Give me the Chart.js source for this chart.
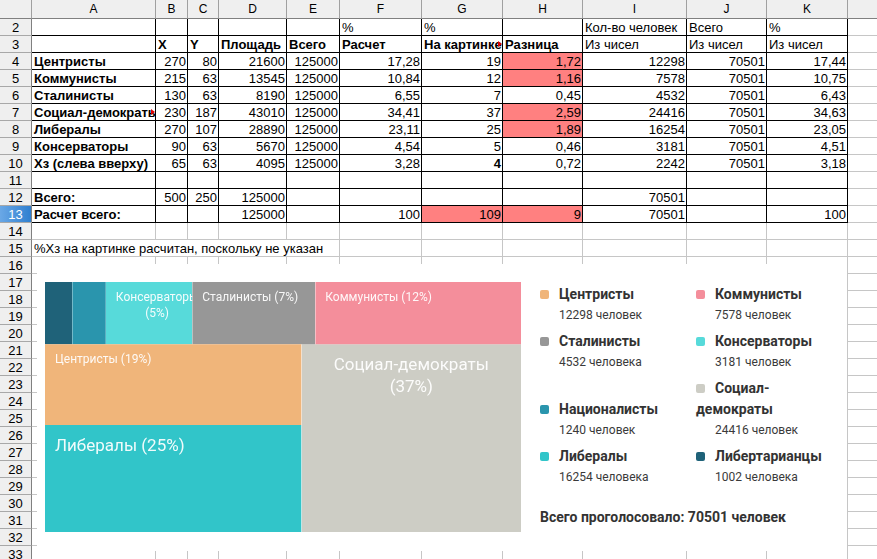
<!DOCTYPE html>
<html lang="ru">
<head>
<meta charset="utf-8">
<title>Результаты голосования</title>
<script src="https://cdn.jsdelivr.net/npm/chart.js@4.4.1/dist/chart.umd.min.js"></script>
<style>
  html, body { margin: 0; padding: 0; background: #fff; }
  #sheet { position: relative; width: 877px; height: 559px; overflow: hidden;
           font-family: "Liberation Sans", Arial, sans-serif; font-size: 13px; color: #000; }
  .ln { position: absolute; }
  .cell { position: absolute; height: 16px; line-height: 17px; overflow: hidden; white-space: nowrap;
          box-sizing: border-box; padding: 0 1px 0 2px; z-index: 2; }
  .num { text-align: right; }
  .b { font-weight: bold; }
  .hdr { position: absolute; background: #efefef; text-align: center; box-sizing: border-box;
         font-size: 12px; z-index: 5; }
  .tri { position: absolute; right: 0; top: 5px; width: 0; height: 0;
         border-left: 4px solid #e00000; border-top: 3px solid transparent; border-bottom: 3px solid transparent; }
  #picture { position: absolute; left: 37px; top: 264px; width: 810px; height: 287px; background: #fff; z-index: 4;
             font-family: Roboto, "Noto Sans", sans-serif; color: #333; }
  #treemap { position: absolute; left: 8px; top: 18px; width: 476px; height: 250px; }
  #legend { position: absolute; left: 503px; top: 19.5px; display: grid;
            grid-template-columns: 156px 135px; row-gap: 5px; align-items: end; }
  .li-name { font-size: 14px; font-weight: bold; line-height: 21px; color: #333; }
  .li-count { font-size: 12px; line-height: 21px; padding-left: 19px; color: #3a3a3a; }
  .sw { display: inline-block; width: 9px; height: 9px; border-radius: 2px; margin-right: 10px; vertical-align: middle; }
  #total { position: absolute; left: 503px; top: 242.5px; font-size: 14px; font-weight: bold; line-height: 21px; color: #333; }
</style>
</head>
<body>
<div id="sheet">
  <div id="picture">
    <div id="treemap"><canvas id="treemapChart"></canvas></div>
    <div id="legend"></div>
    <div id="total"></div>
  </div>
</div>
<script>
// Spreadsheet data (rows 4-10)
var sheetParties = ['Центристы', 'Коммунисты', 'Сталинисты', 'Социал-демократы', 'Либералы', 'Консерваторы', 'Хз (слева вверху)'];
var pxWidth = [270, 215, 130, 230, 270, 90, 65];
var pxHeight = [80, 63, 63, 187, 107, 63, 63];
var pxArea = [21600, 13545, 8190, 43010, 28890, 5670, 4095];
var pxTotal = 125000;
var calcPct = [17.28, 10.84, 6.55, 34.41, 23.11, 4.54, 3.28];
var picPct = [19, 12, 7, 37, 25, 5, 4];
var diffPct = [1.72, 1.16, 0.45, 2.59, 1.89, 0.46, 0.72];
var sheetVoters = [12298, 7578, 4532, 24416, 16254, 3181, 2242];
var sheetVotersTotal = 70501;
var sheetVotersPct = [17.44, 10.75, 6.43, 34.63, 23.05, 4.51, 3.18];
var pictureSize = [500, 250];

// Chart data
var parties = ['Центристы', 'Коммунисты', 'Сталинисты', 'Консерваторы', 'Националисты', 'Социал-демократы', 'Либералы', 'Либертарианцы'];
var voters = [12298, 7578, 4532, 3181, 1240, 24416, 16254, 1002];
var shownPct = [19, 12, 7, 5, null, 37, 25, null];
var partyColors = ['#f0b57a', '#f48e9b', '#979797', '#57dada', '#2a95ad', '#cdcdc5', '#31c5c9', '#1f6279'];

// how the treemap is split: 'h' = side by side, 'v' = stacked
var treeLayout = { dir: 'v', items: [
  { dir: 'h', items: ['Либертарианцы', 'Националисты', 'Консерваторы', 'Сталинисты', 'Коммунисты'] },
  { dir: 'h', items: [{ dir: 'v', items: ['Центристы', 'Либералы'] }, 'Социал-демократы'] }
]};

// ---------- spreadsheet ----------
var sheet = document.getElementById('sheet');
var colEdges = [32, 156, 188, 219, 287, 340, 422, 503, 583, 687, 767, 848, 960];
var colNames = ['A', 'B', 'C', 'D', 'E', 'F', 'G', 'H', 'I', 'J', 'K', 'L'];
var HEAD_H = 19, ROW_H = 17;
function rowTop(r) { return HEAD_H + (r - 2) * ROW_H; }
function fmt(v, dec) { return v.toFixed(dec).replace('.', ','); }

function line(x, y, w, h, color, z) {
  var d = document.createElement('div');
  d.className = 'ln';
  d.style.cssText = 'left:' + x + 'px;top:' + y + 'px;width:' + w + 'px;height:' + h + 'px;background:' + color + ';z-index:' + z;
  sheet.appendChild(d);
}

function putCell(col, row, text, opts) {
  opts = opts || {};
  var c = colNames.indexOf(col);
  var d = document.createElement('div');
  d.className = 'cell' + (typeof text === 'number' ? ' num' : '') + (opts.bold ? ' b' : '');
  d.style.left = colEdges[c] + 'px';
  d.style.top = rowTop(row) + 'px';
  d.style.width = (opts.width || (colEdges[c + 1] - colEdges[c] - 1)) + 'px';
  if (opts.fill) d.style.background = opts.fill;
  d.textContent = typeof text === 'number' && opts.dec !== undefined ? fmt(text, opts.dec) : String(text);
  if (opts.more) {
    d.style.paddingRight = '5px';
    var t = document.createElement('span');
    t.className = 'tri';
    d.appendChild(t);
  }
  sheet.appendChild(d);
}

// light grid
for (var r = 3; r <= 34; r++) line(0, rowTop(r) - 1, 877, 1, '#c6c6c6', 1);
for (var c = 1; c < colEdges.length - 1; c++) line(colEdges[c] - 1, HEAD_H, 1, 559, '#c6c6c6', 1);

// headers
var corner = document.createElement('div');
corner.className = 'hdr';
corner.style.cssText = 'left:0;top:0;width:32px;height:19px;border-right:1px solid #a0a0a0;border-bottom:1px solid #808080';
sheet.appendChild(corner);
colNames.forEach(function (name, i) {
  var h = document.createElement('div');
  h.className = 'hdr';
  h.style.cssText = 'left:' + colEdges[i] + 'px;top:0;width:' + (colEdges[i + 1] - colEdges[i]) + 'px;height:19px;line-height:19px;' +
    'border-right:1px solid #a0a0a0;border-bottom:1px solid #808080';
  h.textContent = name === 'L' ? '' : name;
  sheet.appendChild(h);
});
for (var rr = 2; rr <= 34; rr++) {
  var h = document.createElement('div');
  h.className = 'hdr';
  h.style.cssText = 'left:0;top:' + rowTop(rr) + 'px;width:32px;height:17px;line-height:17px;font-size:13px;' +
    'border-right:1px solid #808080;border-bottom:1px solid #a8a8a8;' +
    (rr === 13 ? 'background:linear-gradient(90deg,#6aa8e6,#2f7fd0);color:#fff;' : '');
  h.textContent = rr;
  sheet.appendChild(h);
}

// row 2 and 3 captions
putCell('F', 2, '%'); putCell('G', 2, '%'); putCell('I', 2, 'Кол-во человек'); putCell('J', 2, 'Всего'); putCell('K', 2, '%');
putCell('B', 3, 'X', { bold: true }); putCell('C', 3, 'Y', { bold: true }); putCell('D', 3, 'Площадь', { bold: true });
putCell('E', 3, 'Всего', { bold: true }); putCell('F', 3, 'Расчет', { bold: true });
putCell('G', 3, 'На картинке', { bold: true, more: true }); putCell('H', 3, 'Разница', { bold: true });
putCell('I', 3, 'Из чисел'); putCell('J', 3, 'Из чисел'); putCell('K', 3, 'Из чисел');

var RED = '#ff8080';
sheetParties.forEach(function (name, i) {
  var row = 4 + i;
  putCell('A', row, name, { bold: true, more: name === 'Социал-демократы' });
  putCell('B', row, pxWidth[i]);
  putCell('C', row, pxHeight[i]);
  putCell('D', row, pxArea[i]);
  putCell('E', row, pxTotal);
  putCell('F', row, calcPct[i], { dec: 2 });
  putCell('G', row, picPct[i], { bold: i === sheetParties.length - 1 });
  putCell('H', row, diffPct[i], { dec: 2, fill: diffPct[i] > 1 ? RED : null });
  putCell('I', row, sheetVoters[i]);
  putCell('J', row, sheetVotersTotal);
  putCell('K', row, sheetVotersPct[i], { dec: 2 });
});

function sum(arr) { return arr.reduce(function (s, v) { return s + v; }, 0); }
putCell('A', 12, 'Всего:', { bold: true });
putCell('B', 12, pictureSize[0]); putCell('C', 12, pictureSize[1]);
putCell('D', 12, pictureSize[0] * pictureSize[1]);
putCell('I', 12, sheetVotersTotal);
var picSum = sum(picPct), calcSum = Math.round(sum(calcPct));
putCell('A', 13, 'Расчет всего:', { bold: true });
putCell('D', 13, sum(pxArea));
putCell('F', 13, calcSum);
putCell('G', 13, picSum, { fill: picSum !== 100 ? RED : null });
putCell('H', 13, picSum - calcSum, { fill: picSum !== calcSum ? RED : null });
putCell('I', 13, sum(sheetVoters));
putCell('K', 13, Math.round(sum(sheetVotersPct)));
putCell('A', 15, '%Хз на картинке расчитан, поскольку не указан', { width: colEdges[5] - colEdges[0] - 1, fill: '#fff' });

// black borders around A2:K13
for (var br = 2; br <= 14; br++) line(31, rowTop(br) - 1, colEdges[11] - 31, 1, '#000', 3);
for (var bc = 0; bc <= 11; bc++) line(colEdges[bc] - 1, rowTop(2) - 1, 1, rowTop(14) - rowTop(2) + 1, '#000', 3);

// ---------- treemap ----------
var totalVoters = sum(voters);
function nodeSum(n) {
  if (typeof n === 'string') return voters[parties.indexOf(n)];
  return sum(n.items.map(nodeSum));
}
function place(n, x0, y0, x1, y1, out) {
  if (typeof n === 'string') { out[n] = { x0: x0, y0: y0, x1: x1, y1: y1 }; return; }
  var total = nodeSum(n), pos = n.dir === 'h' ? x0 : y0;
  n.items.forEach(function (child) {
    var f = nodeSum(child) / total;
    if (n.dir === 'h') { var nx = pos + (x1 - x0) * f; place(child, pos, y0, nx, y1, out); pos = nx; }
    else { var ny = pos + (y1 - y0) * f; place(child, x0, pos, x1, ny, out); pos = ny; }
  });
}
var cells = {};
place(treeLayout, 0, 0, 1, 1, cells);

var datasets = parties.map(function (name, i) {
  var r = cells[name];
  return {
    label: name,
    data: [{ x: r.x0, y: r.y0 }, { x: r.x1, y: r.y0 }],
    fill: { value: r.y1 },
    backgroundColor: partyColors[i],
    borderWidth: 0,
    pointRadius: 0,
    pointHitRadius: 0
  };
});

function wrapWords(ctx, text, maxW) {
  var words = text.split(' '), lines = [], cur = '';
  words.forEach(function (w) {
    var test = cur ? cur + ' ' + w : w;
    if (cur && ctx.measureText(test).width > maxW) { lines.push(cur); cur = w; }
    else cur = test;
  });
  if (cur) lines.push(cur);
  return lines;
}

var rectLabels = {
  id: 'rectLabels',
  afterDatasetsDraw: function (chart) {
    var ctx = chart.ctx, xs = chart.scales.x, ys = chart.scales.y;
    parties.forEach(function (name, i) {
      if (shownPct[i] == null) return;
      var r = cells[name];
      var left = xs.getPixelForValue(r.x0), right = xs.getPixelForValue(r.x1);
      var top = ys.getPixelForValue(r.y0), bottom = ys.getPixelForValue(r.y1);
      var w = right - left;
      var fs = voters[i] / totalVoters >= 0.2 ? 17 : 12, pad = 10, lh = Math.round(fs * 1.3);
      ctx.save();
      ctx.beginPath();
      ctx.rect(left, top, w, bottom - top);
      ctx.clip();
      ctx.font = fs + 'px Roboto';
      ctx.fillStyle = 'rgba(255,255,255,0.93)';
      ctx.textBaseline = 'middle';
      var text = name + ' (' + shownPct[i] + '%)';
      var lines = wrapWords(ctx, text, w - 2 * pad);
      if (lines.length === 1) {
        ctx.textAlign = 'left';
        ctx.fillText(text, left + pad, top + lh);
      } else {
        var bw = Math.max.apply(null, lines.map(function (l) { return ctx.measureText(l).width; }));
        var bl = left + Math.max(pad, (w - bw) / 2);
        ctx.textAlign = 'center';
        lines.forEach(function (l, k) { ctx.fillText(l, bl + bw / 2, top + lh + k * lh); });
      }
      ctx.restore();
    });
  }
};

var chart = new Chart(document.getElementById('treemapChart'), {
  type: 'line',
  data: { datasets: datasets },
  options: {
    responsive: true,
    maintainAspectRatio: false,
    animation: false,
    layout: { padding: 0 },
    scales: {
      x: { type: 'linear', min: 0, max: 1, display: false },
      y: { type: 'linear', min: 0, max: 1, reverse: true, display: false }
    },
    plugins: { legend: { display: false }, tooltip: { enabled: false } }
  },
  plugins: [rectLabels]
});

// ---------- html legend ----------
function people(n) {
  var d = n % 10, h = n % 100;
  return (d >= 2 && d <= 4 && (h < 12 || h > 14)) ? 'человека' : 'человек';
}
var legend = document.getElementById('legend');
chart.data.datasets.forEach(function (ds, i) {
  var item = document.createElement('div');
  var nm = document.createElement('div');
  nm.className = 'li-name';
  var sw = document.createElement('span');
  sw.className = 'sw';
  sw.style.background = ds.backgroundColor;
  nm.appendChild(sw);
  nm.appendChild(document.createTextNode(ds.label));
  var ct = document.createElement('div');
  ct.className = 'li-count';
  ct.textContent = voters[i] + ' ' + people(voters[i]);
  item.appendChild(nm);
  item.appendChild(ct);
  legend.appendChild(item);
});
document.getElementById('total').textContent = 'Всего проголосовало: ' + totalVoters + ' ' + people(totalVoters);
</script>
</body>
</html>
